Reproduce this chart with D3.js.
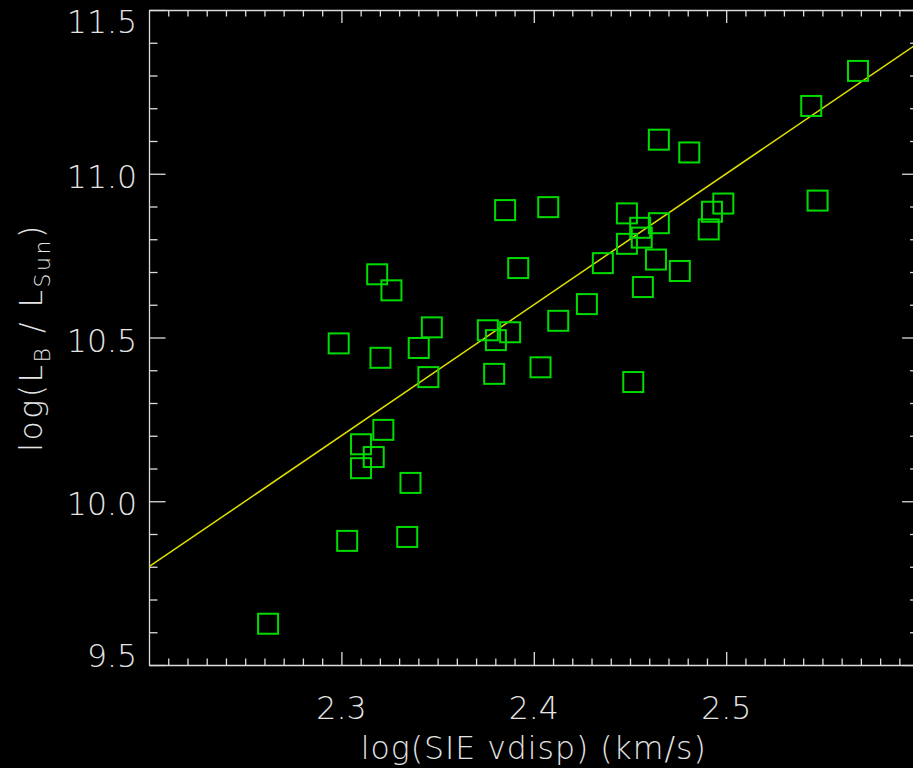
<!DOCTYPE html>
<html>
<head>
<meta charset="utf-8">
<script src="https://cdn.jsdelivr.net/npm/d3@7/dist/d3.min.js"></script>
<style>
  html, body { margin: 0; padding: 0; background: #000; overflow: hidden; }
  svg { display: block; }
  text { font-family: "DejaVu Sans", sans-serif; font-weight: 200; fill: #e4e4e4; }
</style>
</head>
<body>
<svg id="chart" width="913" height="768"></svg>
<script>
// log of SIE velocity dispersion (km/s) for each lens galaxy
const logVdisp = [
  2.2619, 2.3030, 2.3342, 2.3359, 2.3102, 2.3168, 2.3102, 2.3218, 2.2986, 2.3203,
  2.3402, 2.3470, 2.3452, 2.3186, 2.3260, 2.3761, 2.3803, 2.3877, 2.3794, 2.4035,
  2.3851, 2.3919, 2.4075, 2.4127, 2.4276, 2.4359, 2.4517, 2.4484, 2.4484, 2.4553,
  2.4561, 2.4650, 2.4635, 2.4567, 2.4650, 2.4808, 2.4759, 2.4909, 2.4926, 2.4985,
  2.5442, 2.5685, 2.5475
];
// log of B-band luminosity in solar units, same order
const logLB = [
  9.626, 9.879, 9.891, 10.056, 10.101, 10.135, 10.174, 10.218, 10.482, 10.438,
  10.468, 10.531, 10.379, 10.693, 10.644, 10.522, 10.492, 10.516, 10.389, 10.409,
  10.889, 10.712, 10.898, 10.551, 10.602, 10.727, 10.364, 10.879, 10.786, 10.835,
  10.805, 10.849, 10.738, 10.654, 11.104, 11.065, 10.703, 10.830, 10.884, 10.909,
  11.207, 11.314, 10.918
];
// fitted relation end points
const fitX = [2.2, 2.6];
const fitY = [9.8, 11.4];

const xDomain = [2.2, 2.6];
const yDomain = [9.5, 11.5];
const xMajor = [2.3, 2.4, 2.5];
const yMajor = [9.5, 10.0, 10.5, 11.0, 11.5];
const xTickLabels = ["2.3", "2.4", "2.5"];
const yTickLabels = ["9.5", "10.0", "10.5", "11.0", "11.5"];

const svg = d3.select("#chart");
const plotLeft = 149, plotRight = 918.6, plotTop = 10, plotBottom = 665;
const x = d3.scaleLinear().domain(xDomain).range([plotLeft, plotRight]);
const y = d3.scaleLinear().domain(yDomain).range([plotBottom, plotTop]);

const axisColor = "#dcdcdc";
const xMinor = d3.range(221, 260).map(d => d / 100).filter(v => !xMajor.some(m => Math.abs(m - v) < 1e-6));
const yMinor = d3.range(96, 115).map(d => d / 10).filter(v => !yMajor.some(m => Math.abs(m - v) < 1e-6));

function styleAxis(g) {
  g.selectAll("path, line").attr("stroke", axisColor).attr("stroke-width", 1.3);
  g.selectAll("text").remove();
}

// bottom and top axes (ticks pointing into the plot)
svg.append("g").attr("transform", `translate(0,${plotBottom})`)
  .call(d3.axisBottom(x).tickValues(xMajor).tickSizeInner(-13).tickSizeOuter(0).tickFormat(""))
  .call(styleAxis);
svg.append("g").attr("transform", `translate(0,${plotBottom})`)
  .call(d3.axisBottom(x).tickValues(xMinor).tickSizeInner(-6.5).tickSizeOuter(0).tickFormat(""))
  .call(g => g.select(".domain").remove()).call(styleAxis);
svg.append("g").attr("transform", `translate(0,${plotTop})`)
  .call(d3.axisTop(x).tickValues(xMajor).tickSizeInner(-13).tickSizeOuter(0).tickFormat(""))
  .call(styleAxis);
svg.append("g").attr("transform", `translate(0,${plotTop})`)
  .call(d3.axisTop(x).tickValues(xMinor).tickSizeInner(-6.5).tickSizeOuter(0).tickFormat(""))
  .call(g => g.select(".domain").remove()).call(styleAxis);

// left and right axes
svg.append("g").attr("transform", `translate(${plotLeft},0)`)
  .call(d3.axisLeft(y).tickValues(yMajor).tickSizeInner(-16.5).tickSizeOuter(0).tickFormat(""))
  .call(styleAxis);
svg.append("g").attr("transform", `translate(${plotLeft},0)`)
  .call(d3.axisLeft(y).tickValues(yMinor).tickSizeInner(-8.5).tickSizeOuter(0).tickFormat(""))
  .call(g => g.select(".domain").remove()).call(styleAxis);
svg.append("g").attr("transform", `translate(${plotRight},0)`)
  .call(d3.axisRight(y).tickValues(yMajor).tickSizeInner(-16.5).tickSizeOuter(0).tickFormat(""))
  .call(styleAxis);
svg.append("g").attr("transform", `translate(${plotRight},0)`)
  .call(d3.axisRight(y).tickValues(yMinor).tickSizeInner(-8.5).tickSizeOuter(0).tickFormat(""))
  .call(g => g.select(".domain").remove()).call(styleAxis);

// tick labels
const fontSize = 31.5;
svg.append("g").selectAll("text").data(xMajor).join("text")
  .attr("x", d => x(d)).attr("y", 719)
  .attr("text-anchor", "middle").attr("font-size", fontSize)
  .text((d, i) => xTickLabels[i]);

const labelH = 23;
svg.append("g").selectAll("text").data(yMajor).join("text")
  .attr("x", plotLeft - 12)
  .attr("y", d => {
    const base = y(d) + 2.5 + labelH / 2;
    return Math.min(plotBottom + 2, Math.max(plotTop + labelH, base));
  })
  .attr("text-anchor", "end").attr("font-size", fontSize)
  .text((d, i) => yTickLabels[i]);

// axis titles
svg.append("text")
  .attr("x", (plotLeft + plotRight) / 2).attr("y", 759)
  .attr("text-anchor", "middle").attr("font-size", fontSize)
  .attr("letter-spacing", 1)
  .text("log(SIE vdisp) (km/s)");

const yTitle = svg.append("text")
  .attr("transform", `translate(42,${(plotTop + plotBottom) / 2}) rotate(-90)`)
  .attr("text-anchor", "middle").attr("font-size", fontSize)
  .attr("letter-spacing", 2.5);
yTitle.append("tspan").text("log(L");
yTitle.append("tspan").attr("font-size", 22).attr("dy", 8).text("B");
yTitle.append("tspan").attr("dy", -8).text(" / L");
yTitle.append("tspan").attr("font-size", 22).attr("dy", 8).text("Sun");
yTitle.append("tspan").attr("dy", -8).text(")");

// plot area clip
svg.append("clipPath").attr("id", "plotClip")
  .append("rect").attr("x", plotLeft).attr("y", plotTop)
  .attr("width", plotRight - plotLeft).attr("height", plotBottom - plotTop);

// fitted line
svg.append("path")
  .attr("clip-path", "url(#plotClip)")
  .datum(fitX.map((v, i) => [v, fitY[i]]))
  .attr("d", d3.line().x(d => x(d[0])).y(d => y(d[1])))
  .attr("fill", "none").attr("stroke", "#e0e000").attr("stroke-width", 1.5);

// square markers
const box = 20;
svg.append("g").selectAll("rect").data(logVdisp.map((v, i) => [v, logLB[i]])).join("rect")
  .attr("x", d => x(d[0]) - box / 2).attr("y", d => y(d[1]) - box / 2)
  .attr("width", box).attr("height", box)
  .attr("fill", "none").attr("stroke", "#00dc00").attr("stroke-width", 2);
</script>
</body>
</html>
